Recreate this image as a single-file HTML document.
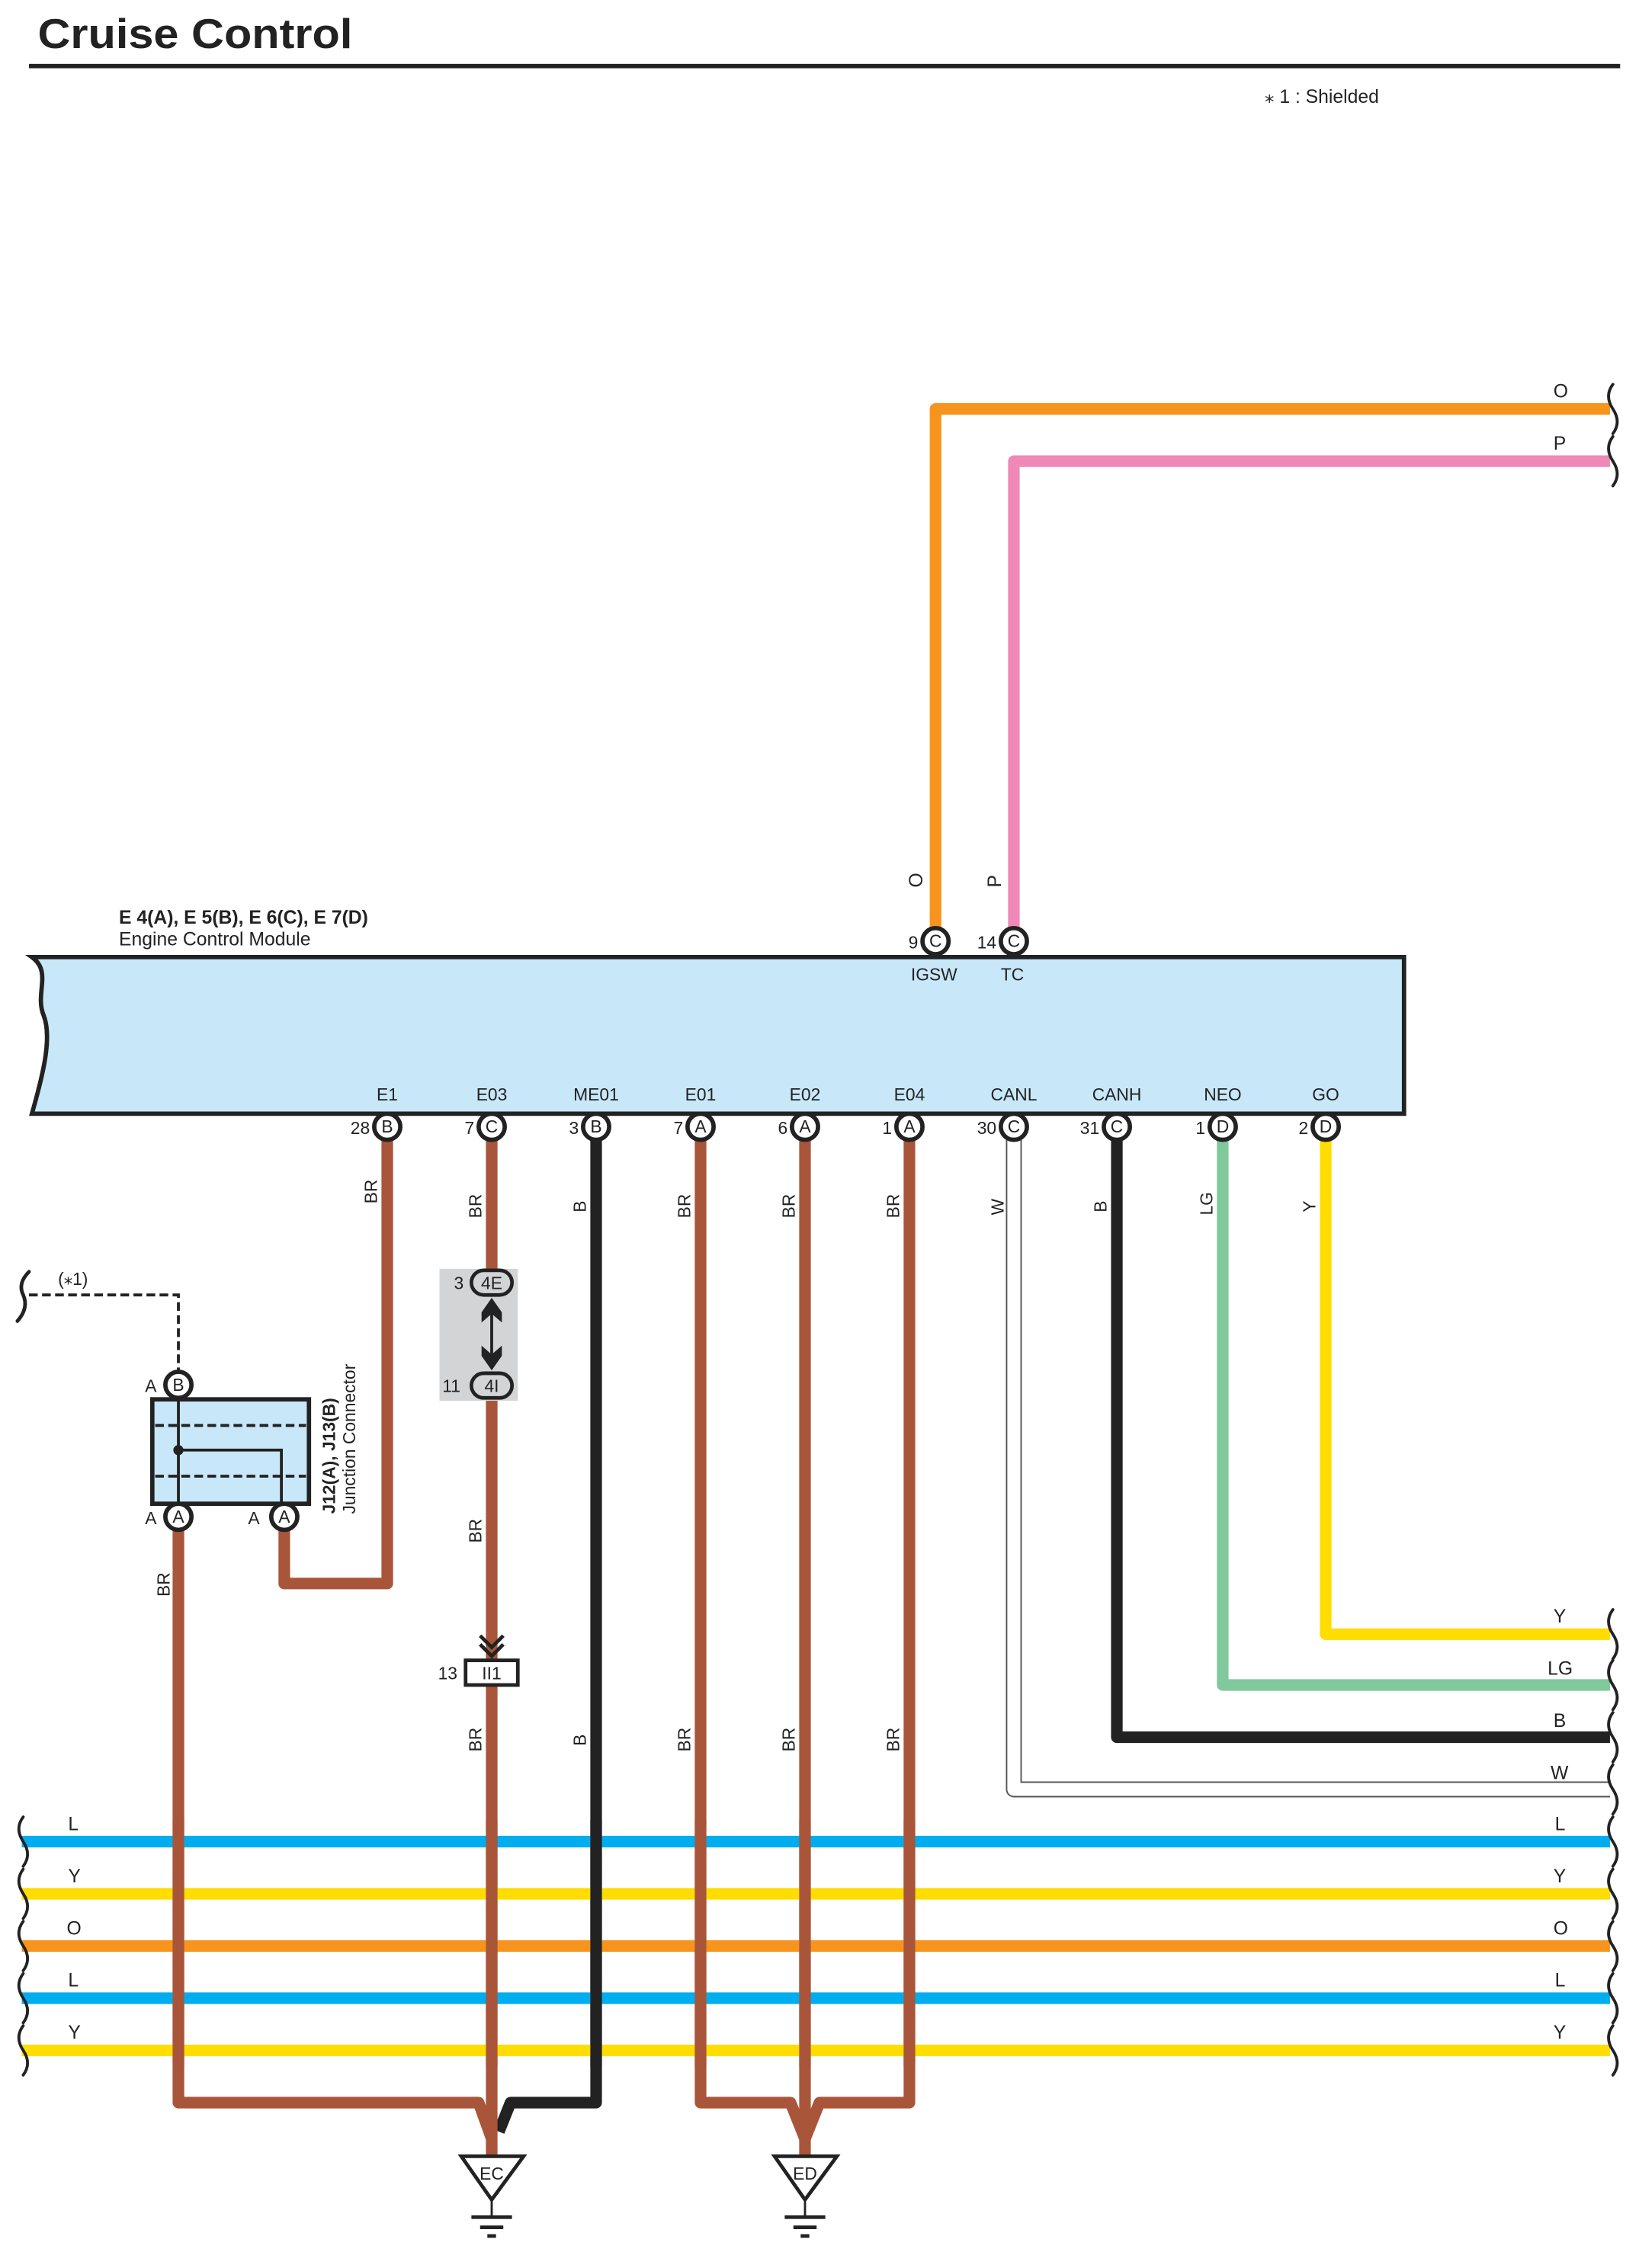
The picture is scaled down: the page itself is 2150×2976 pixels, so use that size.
<!DOCTYPE html>
<html><head><meta charset="utf-8"><style>
html,body{margin:0;padding:0;background:#fff;}
svg{display:block;}
text{font-family:"Liberation Sans",sans-serif;fill:#222;}
</style></head><body>
<svg width="2150" height="2976" viewBox="0 0 1130 1564" xmlns="http://www.w3.org/2000/svg">
<defs>
<g id="brk"><path d="M0,-17 q-6,8 0,17 q6,9 0,17" fill="none" stroke="#222" stroke-width="2" stroke-linecap="round"/></g>
</defs>
<text x="26" y="33" font-size="29" font-weight="bold" fill="#222" textLength="217" lengthAdjust="spacingAndGlyphs">Cruise Control</text>
<rect x="20" y="44" width="1097" height="3" fill="#222"/>
<text x="872" y="71" font-size="13">⁎ 1 : Shielded</text>

<path d="M645,641 V282 H1110" fill="none" stroke="#f7941d" stroke-width="8" stroke-linejoin="round"/>
<path d="M699,641 V318 H1110" fill="none" stroke="#f088b8" stroke-width="8" stroke-linejoin="round"/>
<text x="1071" y="274" font-size="13">O</text>
<text x="1071" y="310" font-size="13">P</text>
<use href="#brk" x="1112" y="282"/>
<use href="#brk" x="1112" y="318"/>
<text transform="translate(636,612) rotate(-90)" font-size="13">O</text>
<text transform="translate(690,612) rotate(-90)" font-size="13">P</text>

<text x="82" y="637" font-size="13" font-weight="bold">E 4(A), E 5(B), E 6(C), E 7(D)</text>
<text x="82" y="652" font-size="13">Engine Control Module</text>
<path d="M22,660 H968 V768 H22 C30,740 36,715 30,700 C24,685 36,670 22,660 Z" fill="#c8e8f9" stroke="#222" stroke-width="3"/>
<text x="628" y="676" font-size="12">IGSW</text>
<text x="690" y="676" font-size="12">TC</text>

<g fill="none" stroke-width="8" stroke-linejoin="round">
<path d="M267,786 V1092 H196 V1055" stroke="#a9553a"/>
<path d="M339,786 V884" stroke="#a9553a"/>
<path d="M123,1055 V1450 H330 L339,1475" stroke="#a9553a"/>
<path d="M411,786 V1450 H352 L344,1470" stroke="#222"/>
<path d="M339,956 V1487" stroke="#a9553a"/>
<path d="M483,786 V1450 H545 L555,1475" stroke="#a9553a"/>
<path d="M627,786 V1450 H565 L555,1475" stroke="#a9553a"/>
<path d="M555,786 V1487" stroke="#a9553a"/>
<path d="M770,786 V1198 H1110" stroke="#222"/>
<path d="M843,786 V1162 H1110" stroke="#7fc99c"/>
<path d="M914,786 V1127 H1110" stroke="#ffdd00"/>
<path d="M699,786 V1234 H1110" stroke="#555" stroke-width="11"/>
<path d="M699,786 V1234 H1110" stroke="#fff" stroke-width="9"/>
</g>
<text x="1071" y="1119" font-size="13">Y</text>
<text x="1067" y="1155" font-size="13">LG</text>
<text x="1071" y="1191" font-size="13">B</text>
<text x="1069" y="1227" font-size="13">W</text>
<use href="#brk" x="1112" y="1127"/>
<use href="#brk" x="1112" y="1162"/>
<use href="#brk" x="1112" y="1198"/>
<use href="#brk" x="1112" y="1234"/>

<g stroke-width="8">
<line x1="15" y1="1270" x2="1110" y2="1270" stroke="#00aeef"/>
<line x1="15" y1="1306" x2="1110" y2="1306" stroke="#ffdd00"/>
<line x1="15" y1="1342" x2="1110" y2="1342" stroke="#f7941d"/>
<line x1="15" y1="1378" x2="1110" y2="1378" stroke="#00aeef"/>
<line x1="15" y1="1414" x2="1110" y2="1414" stroke="#ffdd00"/>
</g>
<g font-size="13">
<text x="47" y="1262">L</text><text x="47" y="1298">Y</text><text x="46" y="1334">O</text><text x="47" y="1370">L</text><text x="47" y="1406">Y</text>
<text x="1072" y="1262">L</text><text x="1071" y="1298">Y</text><text x="1071" y="1334">O</text><text x="1072" y="1370">L</text><text x="1071" y="1406">Y</text>
</g>
<use href="#brk" x="16" y="1270"/><use href="#brk" x="16" y="1306"/><use href="#brk" x="16" y="1342"/><use href="#brk" x="16" y="1378"/><use href="#brk" x="16" y="1414"/>
<use href="#brk" x="1112" y="1270"/><use href="#brk" x="1112" y="1306"/><use href="#brk" x="1112" y="1342"/><use href="#brk" x="1112" y="1378"/><use href="#brk" x="1112" y="1414"/>
<g stroke-width="8" fill="none">
<line x1="123" y1="1255" x2="123" y2="1425" stroke="#a9553a"/>
<line x1="339" y1="1255" x2="339" y2="1425" stroke="#a9553a"/>
<line x1="411" y1="1255" x2="411" y2="1425" stroke="#222"/>
<line x1="483" y1="1255" x2="483" y2="1425" stroke="#a9553a"/>
<line x1="555" y1="1255" x2="555" y2="1425" stroke="#a9553a"/>
<line x1="627" y1="1255" x2="627" y2="1425" stroke="#a9553a"/>
</g>

<g fill="#fff" stroke="#222" stroke-width="3">
<circle cx="645" cy="649" r="9"/><circle cx="699" cy="649" r="9"/>
<circle cx="267" cy="777" r="9"/><circle cx="339" cy="777" r="9"/><circle cx="411" cy="777" r="9"/>
<circle cx="483" cy="777" r="9"/><circle cx="555" cy="777" r="9"/><circle cx="627" cy="777" r="9"/>
<circle cx="699" cy="777" r="9"/><circle cx="770" cy="777" r="9"/><circle cx="843" cy="777" r="9"/><circle cx="914" cy="777" r="9"/>
</g>
<g font-size="12" text-anchor="middle">
<text x="645" y="653">C</text><text x="699" y="653">C</text>
<text x="267" y="781">B</text><text x="339" y="781">C</text><text x="411" y="781">B</text><text x="483" y="781">A</text><text x="555" y="781">A</text><text x="627" y="781">A</text><text x="699" y="781">C</text><text x="770" y="781">C</text><text x="843" y="781">D</text><text x="914" y="781">D</text>
</g>
<g font-size="12" text-anchor="end">
<text x="633" y="654">9</text><text x="687" y="654">14</text>
<text x="255" y="782">28</text><text x="327" y="782">7</text><text x="399" y="782">3</text><text x="471" y="782">7</text><text x="543" y="782">6</text><text x="615" y="782">1</text><text x="687" y="782">30</text><text x="758" y="782">31</text><text x="831" y="782">1</text><text x="902" y="782">2</text>
</g>
<g font-size="12" text-anchor="middle">
<text x="267" y="759">E1</text><text x="339" y="759">E03</text><text x="411" y="759">ME01</text><text x="483" y="759">E01</text><text x="555" y="759">E02</text><text x="627" y="759">E04</text><text x="699" y="759">CANL</text><text x="770" y="759">CANH</text><text x="843" y="759">NEO</text><text x="914" y="759">GO</text>
</g>
<g font-size="12">
<text transform="translate(260,830) rotate(-90)">BR</text>
<text transform="translate(332,840) rotate(-90)">BR</text>
<text transform="translate(404,836) rotate(-90)">B</text>
<text transform="translate(476,840) rotate(-90)">BR</text>
<text transform="translate(548,840) rotate(-90)">BR</text>
<text transform="translate(620,840) rotate(-90)">BR</text>
<text transform="translate(692,838) rotate(-90)">W</text>
<text transform="translate(763,836) rotate(-90)">B</text>
<text transform="translate(836,838) rotate(-90)">LG</text>
<text transform="translate(907,836) rotate(-90)">Y</text>
<text transform="translate(117,1101) rotate(-90)">BR</text>
<text transform="translate(332,1064) rotate(-90)">BR</text>
<text transform="translate(332,1208) rotate(-90)">BR</text>
<text transform="translate(404,1204) rotate(-90)">B</text>
<text transform="translate(476,1208) rotate(-90)">BR</text>
<text transform="translate(548,1208) rotate(-90)">BR</text>
<text transform="translate(620,1208) rotate(-90)">BR</text>
</g>

<path d="M20,893 H123 V946" fill="none" stroke="#222" stroke-width="2" stroke-dasharray="6,3"/>
<path d="M20,877 q-8,8 -4,16 q4,9 -4,18" fill="none" stroke="#222" stroke-width="2.5" stroke-linecap="round"/>
<text x="40" y="886" font-size="12">(⁎1)</text>

<rect x="105" y="965" width="108" height="72" fill="#c8e8f9" stroke="#222" stroke-width="3"/>
<line x1="107" y1="983" x2="211" y2="983" stroke="#222" stroke-width="2" stroke-dasharray="6,3"/>
<line x1="107" y1="1018" x2="211" y2="1018" stroke="#222" stroke-width="2" stroke-dasharray="6,3"/>
<path d="M123,955 V1046 M123,1000 H194 V1046" fill="none" stroke="#222" stroke-width="2"/>
<circle cx="123" cy="1000" r="3.5" fill="#222"/>
<g fill="#fff" stroke="#222" stroke-width="3">
<circle cx="123" cy="955" r="9"/><circle cx="123" cy="1046" r="9"/><circle cx="196" cy="1046" r="9"/>
</g>
<g font-size="12" text-anchor="middle"><text x="123" y="959">B</text><text x="123" y="1050">A</text><text x="196" y="1050">A</text></g>
<g font-size="12"><text x="100" y="960">A</text><text x="100" y="1051">A</text><text x="171" y="1051">A</text></g>
<text transform="translate(231,1044) rotate(-90)" font-size="12" font-weight="bold">J12(A), J13(B)</text>
<text transform="translate(245,1044) rotate(-90)" font-size="12">Junction Connector</text>

<rect x="303" y="875" width="54" height="91" fill="#d3d4d6"/>
<rect x="325" y="876" width="28" height="17" rx="8.5" fill="#d3d4d6" stroke="#222" stroke-width="2.5"/>
<rect x="325" y="947" width="28" height="17" rx="8.5" fill="#d3d4d6" stroke="#222" stroke-width="2.5"/>
<text x="339" y="889" font-size="12" text-anchor="middle">4E</text>
<text x="339" y="960" font-size="12" text-anchor="middle">4I</text>
<text x="313" y="889" font-size="12">3</text>
<text x="305" y="960" font-size="12">11</text>
<line x1="339" y1="897" x2="339" y2="943" stroke="#222" stroke-width="2"/>
<path d="M339,895 L346,905 V912 L339,906 L332,912 V905 Z" fill="#222"/>
<path d="M339,945 L346,935 V928 L339,934 L332,928 V935 Z" fill="#222"/>

<path d="M331,1128 L339,1136 L347,1128 M331,1134 L339,1142 L347,1134" fill="none" stroke="#222" stroke-width="2.5"/>
<rect x="321" y="1145" width="36" height="17" fill="#fff" stroke="#222" stroke-width="2.5"/>
<text x="339" y="1158" font-size="12" text-anchor="middle">II1</text>
<text x="302" y="1158" font-size="12">13</text>

<g>
<path d="M318,1487 H361 L339,1517 Z" fill="#fff" stroke="#222" stroke-width="2.5"/>
<text x="339" y="1503" font-size="12" text-anchor="middle">EC</text>
<line x1="339" y1="1517" x2="339" y2="1529" stroke="#222" stroke-width="1.5"/>
<line x1="325" y1="1529" x2="353" y2="1529" stroke="#222" stroke-width="2.5"/>
<line x1="331" y1="1536" x2="347" y2="1536" stroke="#222" stroke-width="2.5"/>
<line x1="336" y1="1542" x2="342" y2="1542" stroke="#222" stroke-width="2.5"/>
</g>
<g transform="translate(216,0)">
<path d="M318,1487 H361 L339,1517 Z" fill="#fff" stroke="#222" stroke-width="2.5"/>
<text x="339" y="1503" font-size="12" text-anchor="middle">ED</text>
<line x1="339" y1="1517" x2="339" y2="1529" stroke="#222" stroke-width="1.5"/>
<line x1="325" y1="1529" x2="353" y2="1529" stroke="#222" stroke-width="2.5"/>
<line x1="331" y1="1536" x2="347" y2="1536" stroke="#222" stroke-width="2.5"/>
<line x1="336" y1="1542" x2="342" y2="1542" stroke="#222" stroke-width="2.5"/>
</g>
</svg>
</body></html>
